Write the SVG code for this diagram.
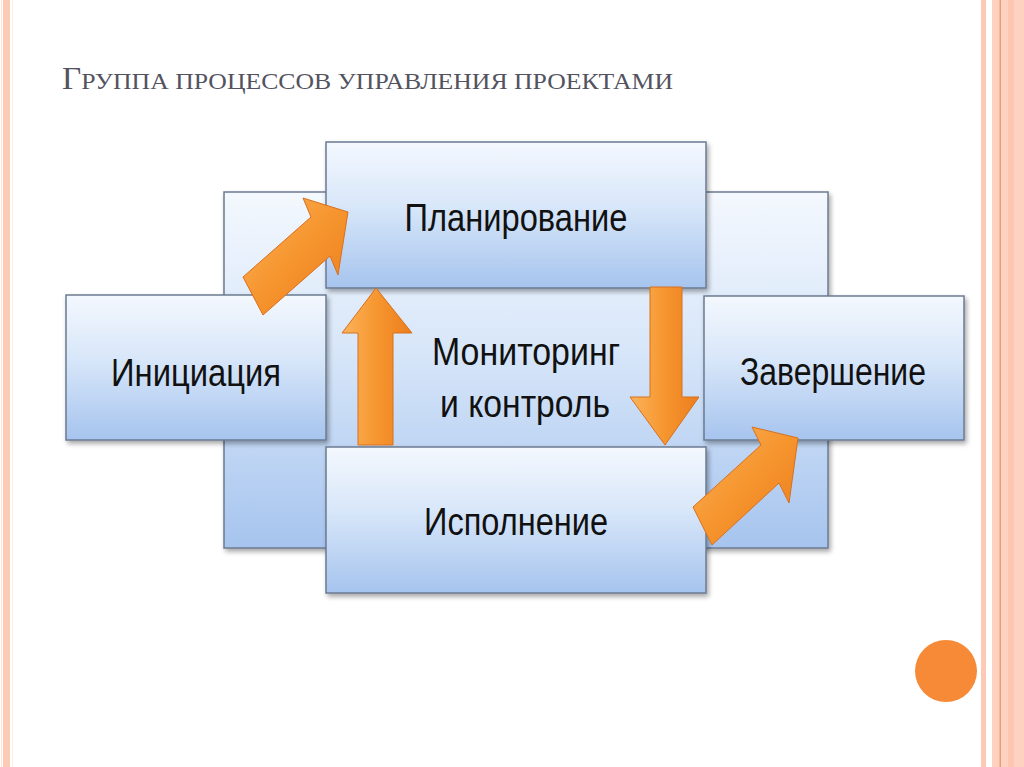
<svg xmlns="http://www.w3.org/2000/svg" width="1024" height="767" viewBox="0 0 1024 767">
<defs>
<linearGradient id="boxg" x1="0" y1="0" x2="0" y2="1">
<stop offset="0" stop-color="#f4f8fe"/>
<stop offset="0.45" stop-color="#d7e6f9"/>
<stop offset="1" stop-color="#a6c4ee"/>
</linearGradient>
<linearGradient id="arrH" x1="0" y1="0" x2="1" y2="0">
<stop offset="0" stop-color="#fbb35c"/>
<stop offset="0.5" stop-color="#f6962f"/>
<stop offset="1" stop-color="#ec7d1d"/>
</linearGradient>
<linearGradient id="arrD" x1="0" y1="0" x2="1" y2="1">
<stop offset="0" stop-color="#fbb35c"/>
<stop offset="0.5" stop-color="#f6952e"/>
<stop offset="1" stop-color="#ea7b1c"/>
</linearGradient>
<filter id="sh" x="-10%" y="-10%" width="125%" height="130%">
<feGaussianBlur in="SourceAlpha" stdDeviation="2.5"/>
<feOffset dx="2" dy="3" result="b"/>
<feComponentTransfer><feFuncA type="linear" slope="0.35"/></feComponentTransfer>
<feMerge><feMergeNode/><feMergeNode in="SourceGraphic"/></feMerge>
</filter>
</defs>
<style>
.box{fill:url(#boxg);stroke:#6b7b91;stroke-width:1.5;filter:url(#sh)}
.lbl{font-family:"Liberation Sans","Open Sans",sans-serif;font-size:38px;fill:#111;text-anchor:middle}
.arr{stroke:#d8701c;stroke-width:1;stroke-linejoin:round}
.stripe{fill:#fdcab6}
</style>
<rect width="1024" height="767" fill="#ffffff"/>
<!-- border decorations -->
<rect x="3" y="0" width="7" height="767" class="stripe"/>
<rect x="1" y="0" width="1" height="767" fill="#fde6dc"/>
<rect x="12" y="0" width="1" height="767" fill="#fdebe4"/>
<rect x="981" y="0" width="5" height="767" class="stripe"/>
<rect x="992" y="0" width="32" height="767" fill="#fdd2c1"/>
<rect x="999.5" y="0" width="1.5" height="767" fill="#ef9c74"/>
<rect x="1008" y="0" width="6" height="767" fill="#fcc6b0"/>
<!-- title -->
<text x="62" y="89" font-family="'Liberation Serif','DejaVu Serif',serif" fill="#535360" font-size="24" textLength="611" lengthAdjust="spacingAndGlyphs"><tspan font-size="31">Г</tspan>РУППА ПРОЦЕССОВ УПРАВЛЕНИЯ ПРОЕКТАМИ</text>
<!-- nodes -->
<g id="monitoring">
<rect class="box" x="224" y="192" width="604" height="356"/>
<text class="lbl" x="526" y="365" textLength="188" lengthAdjust="spacingAndGlyphs">Мониторинг</text>
<text class="lbl" x="525" y="417" textLength="170" lengthAdjust="spacingAndGlyphs">и контроль</text>
</g>
<g id="initiation">
<rect class="box" x="66" y="295" width="260" height="145"/>
<text class="lbl" x="196" y="386" textLength="170" lengthAdjust="spacingAndGlyphs">Инициация</text>
</g>
<g id="planning">
<rect class="box" x="326" y="142" width="380" height="146"/>
<text class="lbl" x="516" y="231" textLength="223" lengthAdjust="spacingAndGlyphs">Планирование</text>
</g>
<g id="execution">
<rect class="box" x="326" y="447" width="380" height="146"/>
<text class="lbl" x="516" y="535" textLength="184" lengthAdjust="spacingAndGlyphs">Исполнение</text>
</g>
<g id="closing">
<rect class="box" x="704" y="296" width="260" height="144"/>
<text class="lbl" x="833" y="385" textLength="186" lengthAdjust="spacingAndGlyphs">Завершение</text>
</g>
<!-- connectors -->
<g id="connectors">
<polygon class="arr" fill="url(#arrD)" points="243,277 311,217 303,198 348,212 338,275 330,256 263,315"/>
<polygon class="arr" fill="url(#arrH)" points="358,445 358,333 342,333 376,288 412,333 393,333 393,445"/>
<polygon class="arr" fill="url(#arrH)" points="650,287 682,287 682,397 699,397 665,445 630,397 650,397"/>
<polygon class="arr" fill="url(#arrD)" points="693,507 761,445 752,427 798,438 789,503 779,483 712,545"/>
</g>
<circle cx="946" cy="671" r="31" fill="#f68a36"/>
</svg>
